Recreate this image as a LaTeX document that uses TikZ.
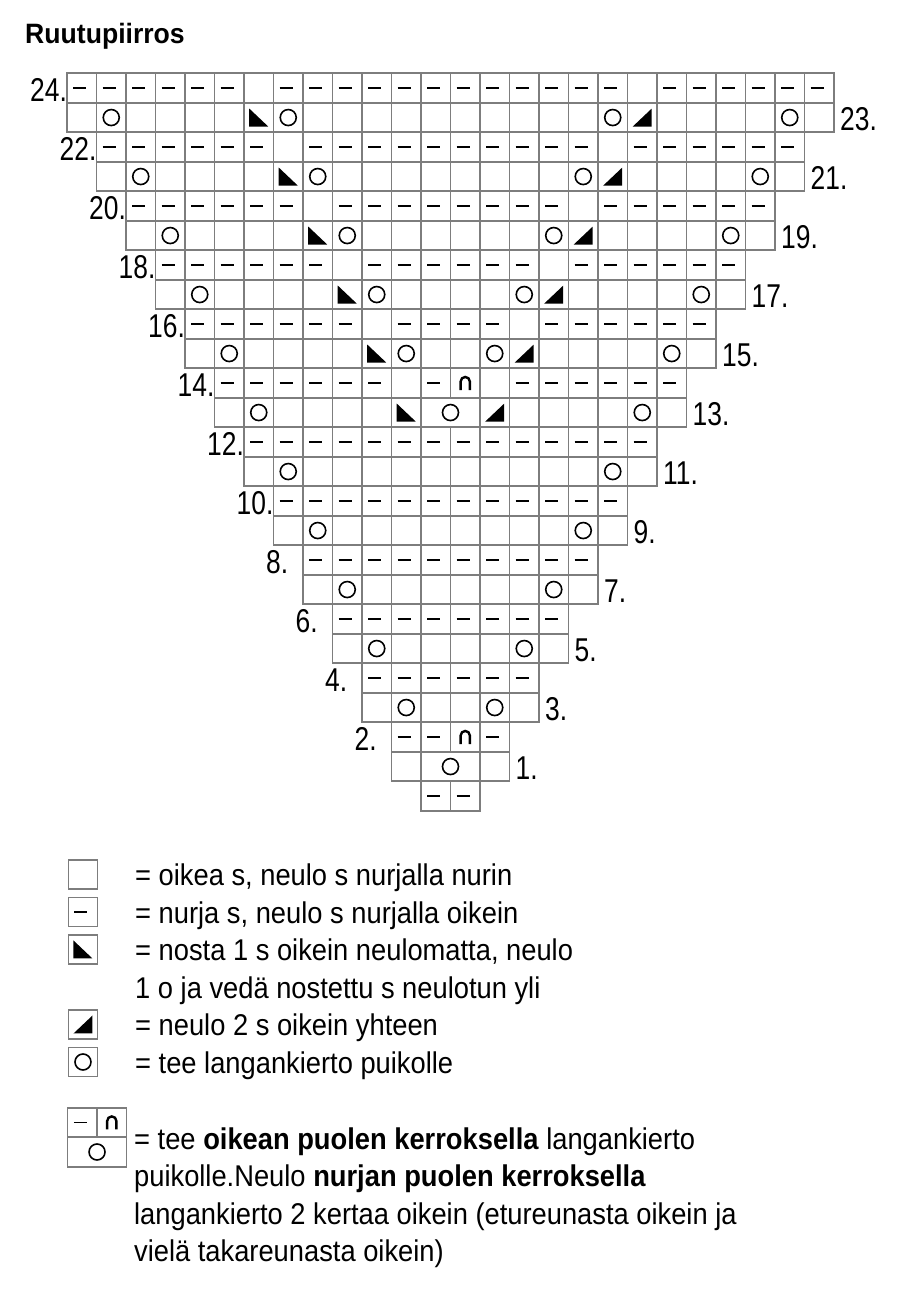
\documentclass[tikz,border=0pt]{standalone}
\usepackage{fontspec}
\setmainfont{Liberation Sans}
\newfontfamily\chartfont{Liberation Sans}[FakeStretch=0.8]
\newfontfamily\keyfont{Liberation Sans}[FakeStretch=0.91]
\newfontfamily\headfont{Liberation Sans}[FakeStretch=0.95]
\usepackage{xcolor}
\usetikzlibrary{positioning,calc}
\definecolor{chartGray}{RGB}{125,125,125}

\begin{document}
\begin{tikzpicture}[x=29.5pt, y=29.5pt,
  cell/.style={draw=chartGray, line width=1.8pt, minimum width=29.5pt,
               minimum height=29.5pt, inner sep=0pt, outer sep=0pt},
  keybox/.style={cell, minimum width=29pt, minimum height=29pt},
  rowlbl/.style={font=\chartfont\fontsize{33}{33}\selectfont, inner sep=0pt, anchor=base west},
  keytext/.style={font=\keyfont\fontsize{30}{37.5}\selectfont, inner sep=0pt,
                  align=left, anchor=base west},
  purl/.pic={\draw[line width=1.8pt] (-8.5pt,0) -- (4.5pt,0);},
  yo/.pic={\draw[line width=1.6pt] (0,0) circle (8pt);},
  ssk/.pic={\fill (-9.5pt,9pt) -- (-9.5pt,-9pt) -- (9.5pt,-9pt) -- cycle;},
  ktog/.pic={\fill (9.5pt,9pt) -- (9.5pt,-9pt) -- (-9.5pt,-9pt) -- cycle;},
  bump/.pic={\draw[line width=2.4pt] (-4.6pt,-7pt) -- (-4.6pt,1.5pt)
              arc[start angle=180, end angle=0, radius=4.6pt] -- (4.6pt,-7pt);}
]
  \useasboundingbox (-2.271,-16.346) rectangle (28.136,27.485);

  \node[font=\headfont\bfseries\fontsize{28}{30}\selectfont, inner sep=0pt,
        anchor=base west] (title) at (-1.424,26.017) {Ruutupiirros};

  % chart: rows 2k-1 and 2k share the same width
  \foreach \k in {1,...,12}{
    \pgfmathtruncatemacro\L{12-\k}
    \pgfmathtruncatemacro\R{13+\k}
    \pgfmathtruncatemacro\ro{2*\k-1}
    \pgfmathtruncatemacro\re{2*\k}
    \pgfmathtruncatemacro\a{18-\k}
    \pgfmathtruncatemacro\b{7+\k}
    \pgfmathtruncatemacro\m{(\k==1 || \k==7) ? 1 : 0}
    % right side row
    \foreach \j in {\L,...,\R}{
      \pgfmathtruncatemacro\s{(\j==\L+1 || \j==\R-1 || (\k>6 && (\j==\a+1 || \j==\b-1))) ? 1 :
                              ((\k>6 && \j==\a) ? 2 : ((\k>6 && \j==\b) ? 3 : 0))}
      \pgfmathtruncatemacro\w{\m==1 ? (\j==12 ? 1 : (\j==13 ? 2 : 0)) : 0}
      \ifcase\w\relax
        \node[cell] (c\ro-\j) at (\j+.5,\ro+.5) {};
        \ifcase\s\relax
        \or \pic at (c\ro-\j) {yo};
        \or \pic at (c\ro-\j) {ssk};
        \or \pic at (c\ro-\j) {ktog};
        \fi
      \or
        \node[cell, minimum width=59pt] (c\ro-\j) at (\j+1,\ro+.5) {};
        \pic at (c\ro-\j) {yo};
      \or
      \fi
    }
    % wrong side row
    \foreach \j in {\L,...,\R}{
      \pgfmathtruncatemacro\s{(\k>6 && (\j==\a || \j==\b)) ? 0 : ((\m==1 && \j==13) ? 4 : 1)}
      \node[cell] (c\re-\j) at (\j+.5,\re+.5) {};
      \ifnum\s=1 \pic at (c\re-\j) {purl};\fi
      \ifnum\s=4 \pic at (c\re-\j) {bump};\fi
    }
    \node[rowlbl] (n\re) at ($(c\re-\L.south west)+(-37pt,1.5pt)$) {\re.};
    \node[rowlbl] (n\ro) at ($(c\ro-\R.south east)+(6pt,1.5pt)$) {\ro.};
  }
  \foreach \j in {12,13}{
    \node[cell] (c0-\j) at (\j+.5,.5) {};
    \pic at (c0-\j) {purl};
  }

  % key (base of a multi-line node = its last line)
  \coordinate (keyx) at (0.542,0);
  \node[keytext] (t1) at (2.305,-2.549) {= oikea s, neulo s nurjalla nurin};
  \node[keytext, below=37.5pt of t1.base west, anchor=base west] (t2)
    {= nurja s, neulo s nurjalla oikein};
  \node[keytext, below=75pt of t2.base west, anchor=base west] (t3)
    {= nosta 1 s oikein neulomatta, neulo\\1 o ja vedä nostettu s neulotun yli};
  \node[keytext, below=37.5pt of t3.base west, anchor=base west] (t4)
    {= neulo 2 s oikein yhteen};
  \node[keytext, below=37.5pt of t4.base west, anchor=base west] (t5)
    {= tee langankierto puikolle};
  \foreach \i in {1,2,4,5}
    \node[keybox] (k\i) at ($(keyx |- t\i.base)+(0,11.5pt)$) {};
  \node[keybox] (k3) at ($(keyx |- t3.base)+(0,49pt)$) {};
  \pic at (k2) {purl};
  \pic at (k3) {ssk};
  \pic at (k4) {ktog};
  \pic at (k5) {yo};

  \node[keytext] (t6) at (2.271,-15.278)
    {= tee \textbf{oikean puolen kerroksella} langankierto\\
     puikolle.Neulo \textbf{nurjan puolen kerroksella}\\
     langankierto 2 kertaa oikein (etureunasta oikein ja\\
     vielä takareunasta oikein)};
  \node[cell] (kp) at ($(keyx |- t6.base)+(-0.7pt,139pt)$) {};
  \node[cell, right=0pt of kp] (kb) {};
  \node[cell, minimum width=59pt, below=0pt of kp.south east] (ky) {};
  \pic at (kp) {purl};
  \pic at (kb) {bump};
  \pic at (ky) {yo};
\end{tikzpicture}
\end{document}
